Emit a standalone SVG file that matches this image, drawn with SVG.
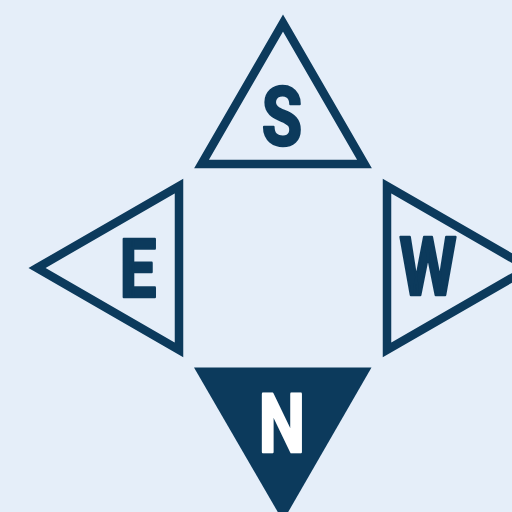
<svg xmlns="http://www.w3.org/2000/svg" width="512" height="512" viewBox="0 0 512 512">
<style>
.tri{fill:none;stroke:#0C3A5C;stroke-width:8.5;stroke-linejoin:miter;stroke-miterlimit:10}
.lbl{font-family:Roboto,"Liberation Sans",sans-serif;font-weight:700;font-size:82px;text-anchor:middle;fill:#0C3A5C;stroke:#0C3A5C;stroke-width:2.6;stroke-linejoin:round}
.inv{fill:#FFFFFF;stroke:#FFFFFF}
</style>
<rect width="512" height="512" fill="#E5EEF9"/>
<g id="north-s">
<polygon class="tri" points="283,23 364.5,164 201.5,164"/>
<text class="lbl" transform="translate(282,145) scale(0.8,1)">S</text>
</g>
<g id="east-e">
<polygon class="tri" points="37,268 179,186 179,350"/>
<text class="lbl" transform="translate(138,297) scale(0.8,1)">E</text>
</g>
<g id="west-w">
<polygon class="tri" points="529,268 387,186 387,350"/>
<text class="lbl" transform="translate(428,295) scale(0.8,1)">W</text>
</g>
<g id="south-n">
<polygon points="194,367.5 371.5,367.5 283,521" fill="#0C3A5C"/>
<text class="lbl inv" transform="translate(282,452) scale(0.8,1)">N</text>
</g>
</svg>
